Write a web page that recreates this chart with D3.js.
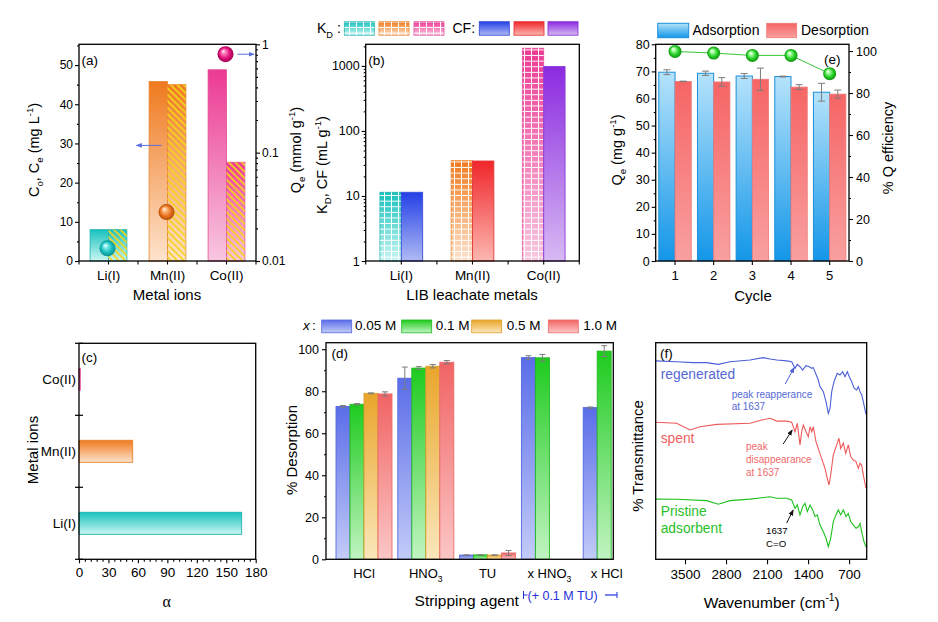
<!DOCTYPE html>
<html><head><meta charset="utf-8">
<script src="https://cdn.jsdelivr.net/npm/d3@7"></script>
<style>
html,body{margin:0;padding:0;background:#fff;}
svg{display:block;font-family:"Liberation Sans",Arial,Helvetica,sans-serif;}
</style></head><body>
<svg id="fig" width="938" height="622"></svg>
<script>
// ---------------- DATA ----------------
const metals = ["Li(I)", "Mn(II)", "Co(II)"];
const C0 = [8.0, 45.8, 48.8];          // mg/L
const Ce = [8.0, 45.0, 25.2];          // mg/L
const Qe = [0.0131, 0.0283, 0.81];     // mmol/g
const KD = [11.4, 34.9, 1870];         // mL/g
const CF = [11.4, 34.5, 977];
const alphaVals = [165.7, 54.7, 1.3];  // Li, Mn, Co

const agents = ["HCl", "HNO3", "TU", "x HNO3", "x HCl"];
const concs = ["0.05 M", "0.1 M", "0.5 M", "1.0 M"];
const desorption = [
  [72.7, 73.8, 79.0, 78.7],
  [86.2, 91.0, 91.9, 93.8],
  [2.0, 2.1, 2.0, 3.0],
  [96.0, 95.9, null, null],
  [72.2, 99.1, null, null]
];
const desorptionErr = [
  [0.5, 0.3, 0.2, 1.0],
  [5.3, 0.7, 0.8, 0.8],
  [0.1, 0.1, 0.1, 1.2],
  [0.9, 1.6, null, null],
  [0.3, 2.6, null, null]
];

const cycles = ["1", "2", "3", "4", "5"];
const adsQ = [69.7, 69.3, 68.3, 68.1, 62.3];
const adsErr = [0.9, 0.8, 0.9, 0.15, 3.3];
const desQ = [66.3, 66.1, 67.1, 64.2, 61.6];
const desErr = [0.1, 1.6, 4.1, 0.9, 1.5];
const effQ = [99.8, 99.0, 97.9, 97.9, 89.2];

// FTIR traces: [wavenumber, relative transmittance]
const ftirRegenerated = [[4000,91.6],[3642,91.2],[3364,90.8],[3130,90.8],[2932,90.0],[2732,91.2],[2391,92.0],[2169,93.1],[2050,92.5],[1935,92.0],[1765,91.6],[1680,91.2],[1623,88.2],[1584,90.0],[1538,88.9],[1492,87.4],[1436,89.4],[1379,88.9],[1338,88.2],[1311,88.5],[1265,85.4],[1226,82.8],[1197,79.7],[1140,77.4],[1094,72.8],[1055,67.4],[1026,69.7],[997,77.4],[958,82.0],[902,85.9],[856,85.1],[810,86.6],[770,84.3],[731,86.6],[697,84.3],[656,82.0],[612,78.9],[571,78.2],[543,79.7],[514,77.4],[485,75.9],[458,72.8],[412,66.9]];
const ftirSpent = [[4000,63.3],[3642,62.8],[3415,59.7],[3244,61.2],[2959,62.3],[2391,62.8],[2191,64.3],[2050,65.1],[1935,63.8],[1765,63.8],[1680,63.3],[1623,58.9],[1584,62.8],[1538,52.8],[1509,58.9],[1482,62.0],[1436,58.9],[1396,56.6],[1367,61.2],[1338,58.9],[1311,61.2],[1265,54.3],[1209,49.7],[1151,45.1],[1111,42.0],[1072,37.4],[1043,34.3],[1014,38.9],[970,48.2],[912,52.8],[873,55.9],[844,51.2],[799,53.6],[758,48.9],[714,52.8],[673,47.4],[629,45.8],[582,45.1],[543,42.0],[514,44.3],[485,43.5],[458,38.9],[412,32.8]];
const ftirPristine = [[4000,27.8],[3642,27.7],[3130,27.1],[2932,25.4],[2732,27.1],[2391,27.8],[2191,28.4],[2050,28.9],[1935,28.2],[1765,28.2],[1680,27.4],[1623,23.5],[1584,25.1],[1538,20.5],[1492,24.3],[1453,25.9],[1413,22.0],[1367,25.1],[1321,22.8],[1282,19.7],[1243,20.5],[1197,15.8],[1140,12.7],[1094,9.7],[1055,5.8],[1014,9.7],[970,17.4],[924,20.5],[885,22.8],[844,20.5],[799,22.8],[753,19.7],[714,21.2],[673,17.4],[629,15.8],[582,14.3],[543,15.0],[514,16.6],[485,12.7],[446,8.1],[412,5.8]];

const ticksA = [0, 10, 20, 30, 40, 50];
const ticksAR = [0.01, 0.1, 1];
const ticksB = [1, 10, 100, 1000];
const ticksE = [0, 10, 20, 30, 40, 50, 60, 70, 80];
const ticksER = [0, 20, 40, 60, 80, 100];
const ticksC = [0, 30, 60, 90, 120, 150, 180];
const ticksD = [0, 20, 40, 60, 80, 100];
const ticksF = [3500, 2800, 2100, 1400, 700];

// ---------------- SETUP ----------------
const svg = d3.select("#fig");
const defs = svg.append("defs");
const FONT = '"Liberation Sans",Arial,Helvetica,sans-serif';

function vgrad(id, top, bottom) {
  const g = defs.append("linearGradient").attr("id", id)
    .attr("x1", 0).attr("y1", 0).attr("x2", 0).attr("y2", 1);
  g.append("stop").attr("offset", "0%").attr("stop-color", top);
  g.append("stop").attr("offset", "100%").attr("stop-color", bottom);
}
function sgrad(id, light, c, dark) {
  const g = defs.append("radialGradient").attr("id", id)
    .attr("cx", "50%").attr("cy", "50%").attr("r", "50%").attr("fx", "35%").attr("fy", "30%");
  g.append("stop").attr("offset", "0%").attr("stop-color", "#ffffff");
  g.append("stop").attr("offset", "22%").attr("stop-color", light);
  g.append("stop").attr("offset", "65%").attr("stop-color", c);
  g.append("stop").attr("offset", "100%").attr("stop-color", dark);
}
const pal = {
  teal:    {top: "#17c2be", bot: "#cbf6f3", stroke: "#20b2ad"},
  orange:  {top: "#ef7a1f", bot: "#fde3cc", stroke: "#e8842e"},
  magenta: {top: "#ec3a93", bot: "#f8c7e0", stroke: "#e24b99"},
  blue:    {top: "#2440e6", bot: "#afbaf4", stroke: "#3a4fd8"},
  red:     {top: "#f0262a", bot: "#fcb7b1", stroke: "#e33a3a"},
  purple:  {top: "#8b2ae0", bot: "#d7baf3", stroke: "#8a3ad8"},
  d0:      {top: "#5a6de8", bot: "#c3cbf8", stroke: "#5468e0"},
  d1:      {top: "#1ecb1e", bot: "#c1f4c1", stroke: "#22b822"},
  d2:      {top: "#e9a52a", bot: "#fbe7bb", stroke: "#dc9e2c"},
  d3:      {top: "#f16464", bot: "#fcc6c6", stroke: "#ec6a6a"},
  ads:     {top: "#b5e3fb", bot: "#1396e8", stroke: "#1d8fd9"},
  des:     {top: "#f66565", bot: "#f9a0a0", stroke: "#ee7a7a"}
};
Object.entries(pal).forEach(([k, v]) => vgrad("g_" + k, v.top, v.bot));
sgrad("s_teal", "#8ff0ee", "#19bfc0", "#0a8e90");
sgrad("s_orange", "#ffc08a", "#ea7420", "#b24d08");
sgrad("s_magenta", "#ff8cc4", "#e2137c", "#a0004f");
sgrad("s_green", "#b8ffb0", "#28d228", "#0f9010");

// hatch (diagonal "\" yellow lines)
const hatch = defs.append("pattern").attr("id", "hatch").attr("patternUnits", "userSpaceOnUse")
  .attr("width", 4.6).attr("height", 4.6).attr("patternTransform", "rotate(-45)");
hatch.append("line").attr("x1", 1).attr("y1", 0).attr("x2", 1).attr("y2", 4.6)
  .attr("stroke", "#f4d41c").attr("stroke-width", 1.7);
// white grid
const grid = defs.append("pattern").attr("id", "grid").attr("patternUnits", "userSpaceOnUse")
  .attr("width", 7).attr("height", 5.6);
grid.append("path").attr("d", "M6.5,0V5.6M0,5.1H7").attr("stroke", "#ffffff")
  .attr("stroke-width", 1).attr("fill", "none");

// arrow markers
function marker(id, color) {
  defs.append("marker").attr("id", id).attr("viewBox", "0 0 10 10").attr("refX", 9).attr("refY", 5)
    .attr("markerWidth", 6).attr("markerHeight", 6).attr("orient", "auto-start-reverse")
    .append("path").attr("d", "M0,1L10,5L0,9Z").attr("fill", color);
}
marker("arrBlue", "#5a6ee0");
marker("arrBlack", "#111");
marker("arrBlueF", "#4f63d6");

function rich(textSel, parts, fs) {
  let shift = 0;
  parts.forEach(p => {
    const [s, k] = Array.isArray(p) ? p : [p, "n"];
    const t = textSel.append("tspan").text(s);
    const target = k === "sub" ? fs * 0.3 : (k === "sup" ? -fs * 0.42 : 0);
    if (k !== "n") t.attr("font-size", fs * 0.66);
    if (target - shift !== 0) t.attr("dy", target - shift);
    shift = target;
  });
  return textSel;
}
function label(g, x, y, parts, fs, opts = {}) {
  const t = g.append("text").attr("x", x).attr("y", y).attr("font-size", fs)
    .attr("font-family", opts.family || FONT)
    .attr("fill", opts.fill || "#000").attr("text-anchor", opts.anchor || "start");
  if (opts.italic) t.attr("font-style", "italic");
  return rich(t, typeof parts === "string" ? [parts] : parts, fs);
}
function vlabel(g, x, y, parts, fs) {
  const t = g.append("text").attr("transform", `translate(${x},${y}) rotate(-90)`)
    .attr("y", fs * 0.35).attr("font-size", fs).attr("text-anchor", "middle")
    .attr("font-family", FONT).attr("fill", "#000");
  return rich(t, parts, fs);
}
function styleAxis(g, fs) {
  g.select(".domain").remove();
  g.selectAll("line").attr("stroke", "#000").attr("stroke-width", 1.1);
  g.selectAll("text").attr("font-size", fs).attr("fill", "#000").attr("font-family", FONT);
  return g;
}
function frame(g, P) {
  g.append("rect").attr("x", P.L).attr("y", P.T).attr("width", P.R - P.L).attr("height", P.B - P.T)
    .attr("fill", "none").attr("stroke", "#000").attr("stroke-width", 1.3);
}
function errBar(g, x, y1, y2, w, color) {
  g.append("line").attr("x1", x).attr("x2", x).attr("y1", y1).attr("y2", y2).attr("stroke", color).attr("stroke-width", 1);
  g.append("line").attr("x1", x - w / 2).attr("x2", x + w / 2).attr("y1", y1).attr("y2", y1).attr("stroke", color).attr("stroke-width", 1);
  g.append("line").attr("x1", x - w / 2).attr("x2", x + w / 2).attr("y1", y2).attr("y2", y2).attr("stroke", color).attr("stroke-width", 1);
}
const metalCol = ["teal", "orange", "magenta"];
const cfCol = ["blue", "red", "purple"];
const sphereCol = ["s_teal", "s_orange", "s_magenta"];

// ---------------- PANEL (a) ----------------
{
  const P = {L: 79, R: 256, T: 44.3, B: 261};
  const g = svg.append("g");
  const x = d3.scaleBand().domain(metals).range([P.L, P.R]);
  const y = d3.scaleLinear().domain([0, 55.3]).range([P.B, P.T]);
  const yR = d3.scaleLog().domain([0.01, 1]).range([P.B, P.T]);
  const bw = x.step() * 0.312;
  metals.forEach((m, i) => {
    const cx = x(m) + x.step() / 2;
    const c = pal[metalCol[i]];
    g.append("rect").attr("x", cx - bw).attr("y", y(C0[i])).attr("width", bw).attr("height", y(0) - y(C0[i]))
      .attr("fill", `url(#g_${metalCol[i]})`).attr("stroke", c.stroke).attr("stroke-width", 0.8);
    g.append("rect").attr("x", cx).attr("y", y(Ce[i])).attr("width", bw).attr("height", y(0) - y(Ce[i]))
      .attr("fill", `url(#g_${metalCol[i]})`).attr("stroke", c.stroke).attr("stroke-width", 0.8);
    g.append("rect").attr("x", cx).attr("y", y(Ce[i])).attr("width", bw).attr("height", y(0) - y(Ce[i]))
      .attr("fill", "url(#hatch)");
  });
  metals.forEach((m, i) => {
    g.append("circle").attr("cx", x(m) + x.step() / 2 - 1).attr("cy", yR(Qe[i])).attr("r", 8)
      .attr("fill", `url(#${sphereCol[i]})`);
  });
  // arrows
  const ax0 = x("Mn(II)") + x.step() / 2 - 6;
  g.append("line").attr("x1", ax0).attr("x2", ax0 - 25).attr("y1", y(29.5)).attr("y2", y(29.5))
    .attr("stroke", "#5a6ee0").attr("stroke-width", 1).attr("marker-end", "url(#arrBlue)");
  const cxCo = x("Co(II)") + x.step() / 2 - 1;
  g.append("line").attr("x1", cxCo + 12).attr("x2", P.R - 2).attr("y1", yR(Qe[2])).attr("y2", yR(Qe[2]))
    .attr("stroke", "#5a6ee0").attr("stroke-width", 1).attr("marker-end", "url(#arrBlue)");
  frame(g, P);
  styleAxis(g.append("g").attr("transform", `translate(${P.L},0)`)
    .call(d3.axisLeft(y).tickValues(ticksA).tickSize(4).tickPadding(2)), 12);
  styleAxis(g.append("g").attr("transform", `translate(${P.L},0)`)
    .call(d3.axisLeft(y).tickValues([5, 15, 25, 35, 45, 55]).tickSize(2).tickFormat("")), 12);
  styleAxis(g.append("g").attr("transform", `translate(${P.R},0)`)
    .call(d3.axisRight(yR).tickValues(ticksAR).tickSize(4).tickPadding(2).tickFormat(d => String(d))), 12);
  const minorR = [];
  [0.01, 0.1].forEach(d => { for (let k = 2; k <= 9; k++) minorR.push(d * k); });
  styleAxis(g.append("g").attr("transform", `translate(${P.R},0)`)
    .call(d3.axisRight(yR).tickValues(minorR).tickSize(2).tickFormat("")), 12);
  const bx = metals.map(m => x(m)).concat([P.R]);
  const cxs = metals.map(m => x(m) + x.step() / 2);
  bx.concat(cxs).forEach(v => g.append("line").attr("x1", v).attr("x2", v).attr("y1", P.B).attr("y2", P.B + 3.5).attr("stroke", "#000").attr("stroke-width", 1.1));
  metals.forEach((m, i) => label(g, cxs[i], 280, m, 13.5, {anchor: "middle"}));
  label(g, 167, 300, "Metal ions", 15, {anchor: "middle"});
  label(g, 81.5, 65, "(a)", 13.5);
  vlabel(g, 34, 150, ["C", ["o", "sub"], ", C", ["e", "sub"], " (mg L", ["-1", "sup"], ")"], 14.5);
  vlabel(g, 296, 150, ["Q", ["e", "sub"], " (mmol g", ["-1", "sup"], ")"], 14.5);
}

// ---------------- PANEL (b) ----------------
{
  const P = {L: 365.7, R: 579.3, T: 44.3, B: 261};
  const g = svg.append("g");
  const x = d3.scaleBand().domain(metals).range([P.L, P.R]);
  const y = d3.scaleLog().domain([1, 2150]).range([P.B, P.T]);
  const bw = x.step() * 0.3;
  metals.forEach((m, i) => {
    const cx = x(m) + x.step() / 2;
    g.append("rect").attr("x", cx - bw).attr("y", y(KD[i])).attr("width", bw).attr("height", y(1) - y(KD[i]))
      .attr("fill", `url(#g_${metalCol[i]})`).attr("stroke", pal[metalCol[i]].stroke).attr("stroke-width", 0.8);
    g.append("rect").attr("x", cx - bw).attr("y", y(KD[i])).attr("width", bw).attr("height", y(1) - y(KD[i]))
      .attr("fill", "url(#grid)");
    g.append("rect").attr("x", cx).attr("y", y(CF[i])).attr("width", bw).attr("height", y(1) - y(CF[i]))
      .attr("fill", `url(#g_${cfCol[i]})`).attr("stroke", pal[cfCol[i]].stroke).attr("stroke-width", 0.9);
  });
  frame(g, P);
  styleAxis(g.append("g").attr("transform", `translate(${P.L},0)`)
    .call(d3.axisLeft(y).tickValues(ticksB).tickSize(4).tickPadding(2).tickFormat(d => String(d))), 12.5);
  const minor = [];
  [1, 10, 100, 1000].forEach(d => { for (let k = 2; k <= 9; k++) if (d * k < 2150) minor.push(d * k); });
  styleAxis(g.append("g").attr("transform", `translate(${P.L},0)`)
    .call(d3.axisLeft(y).tickValues(minor).tickSize(2).tickFormat("")), 12);
  const bx = metals.map(m => x(m)).concat([P.R]);
  const cxs = metals.map(m => x(m) + x.step() / 2);
  bx.concat(cxs).forEach(v => g.append("line").attr("x1", v).attr("x2", v).attr("y1", P.B).attr("y2", P.B + 3.5).attr("stroke", "#000").attr("stroke-width", 1.1));
  metals.forEach((m, i) => label(g, cxs[i], 280, m, 13.5, {anchor: "middle"}));
  label(g, 472, 300, "LIB leachate metals", 15, {anchor: "middle"});
  label(g, 368.3, 65, "(b)", 13.5);
  vlabel(g, 322, 165, ["K", ["D", "sub"], ", CF (mL g", ["-1", "sup"], ")"], 14.5);
  // legend
  label(g, 317, 33.3, ["K", ["D", "sub"], " :"], 14);
  const sw = [[344.3, metalCol[0]], [379, metalCol[1]], [414, metalCol[2]]];
  sw.forEach(([sx, c]) => {
    g.append("rect").attr("x", sx).attr("y", 21.7).attr("width", 30).attr("height", 13.5)
      .attr("fill", `url(#g_${c})`).attr("stroke", pal[c].stroke).attr("stroke-width", 0.8);
    g.append("rect").attr("x", sx).attr("y", 21.7).attr("width", 30).attr("height", 13.5).attr("fill", "url(#grid)");
  });
  label(g, 452.5, 33.3, "CF:", 14);
  [[479.3, cfCol[0]], [514, cfCol[1]], [548, cfCol[2]]].forEach(([sx, c]) => {
    g.append("rect").attr("x", sx).attr("y", 21.7).attr("width", 30).attr("height", 13.5)
      .attr("fill", `url(#g_${c})`).attr("stroke", pal[c].stroke).attr("stroke-width", 0.9);
  });
}

// ---------------- PANEL (e) ----------------
{
  const P = {L: 655.7, R: 849, T: 44.3, B: 261};
  const g = svg.append("g");
  const x = d3.scaleBand().domain(cycles).range([P.L, P.R]);
  const y = d3.scaleLinear().domain([0, 80]).range([P.B, P.T]);
  const yR = d3.scaleLinear().domain([0, 103.2]).range([P.B, P.T]);
  const bw = x.step() * 0.42;
  cycles.forEach((c, i) => {
    const cx = x(c) + x.step() / 2;
    g.append("rect").attr("x", cx - bw).attr("y", y(adsQ[i])).attr("width", bw).attr("height", y(0) - y(adsQ[i]))
      .attr("fill", "url(#g_ads)").attr("stroke", pal.ads.stroke).attr("stroke-width", 1);
    g.append("rect").attr("x", cx).attr("y", y(desQ[i])).attr("width", bw).attr("height", y(0) - y(desQ[i]))
      .attr("fill", "url(#g_des)").attr("stroke", pal.des.stroke).attr("stroke-width", 0.8);
    errBar(g, cx - bw / 2, y(adsQ[i] + adsErr[i]), y(adsQ[i] - adsErr[i]), 7, "#7c7c7c");
    errBar(g, cx + bw / 2, y(desQ[i] + desErr[i]), y(desQ[i] - desErr[i]), 7, "#7c7c7c");
  });
  const line = d3.line().x((d, i) => x(cycles[i]) + x.step() / 2).y(d => yR(d));
  g.append("path").attr("d", line(effQ)).attr("fill", "none").attr("stroke", "#3cc43c").attr("stroke-width", 1);
  effQ.forEach((v, i) => g.append("circle").attr("cx", x(cycles[i]) + x.step() / 2).attr("cy", yR(v)).attr("r", 6.5).attr("fill", "url(#s_green)"));
  frame(g, P);
  styleAxis(g.append("g").attr("transform", `translate(${P.L},0)`)
    .call(d3.axisLeft(y).tickValues(ticksE).tickSize(4).tickPadding(2)), 12.5);
  styleAxis(g.append("g").attr("transform", `translate(${P.L},0)`)
    .call(d3.axisLeft(y).tickValues(d3.range(5, 80, 10)).tickSize(2).tickFormat("")), 12);
  styleAxis(g.append("g").attr("transform", `translate(${P.R},0)`)
    .call(d3.axisRight(yR).tickValues(ticksER).tickSize(4).tickPadding(3)), 12.5);
  styleAxis(g.append("g").attr("transform", `translate(${P.R},0)`)
    .call(d3.axisRight(yR).tickValues(d3.range(10, 101, 20)).tickSize(2).tickFormat("")), 12);
  styleAxis(g.append("g").attr("transform", `translate(0,${P.B})`)
    .call(d3.axisBottom(x).tickSize(4).tickPadding(6)), 13);
  label(g, 824, 64, "(e)", 13.5);
  label(g, 753, 300.5, "Cycle", 15, {anchor: "middle"});
  vlabel(g, 617, 150, ["Q", ["e", "sub"], " (mg g", ["-1", "sup"], ")"], 14.5);
  vlabel(g, 888, 148, ["% Q efficiency"], 14.5);
  // legend
  g.append("rect").attr("x", 657.7).attr("y", 23.3).attr("width", 31).attr("height", 14.4)
    .attr("fill", "url(#g_ads)").attr("stroke", pal.ads.stroke).attr("stroke-width", 1);
  label(g, 692.5, 35.3, "Adsorption", 14);
  g.append("rect").attr("x", 766.7).attr("y", 23.3).attr("width", 30).attr("height", 14.4)
    .attr("fill", "url(#g_des)").attr("stroke", pal.des.stroke).attr("stroke-width", 0.8);
  label(g, 801, 35.3, "Desorption", 14);
}

// ---------------- PANEL (c) ----------------
{
  const P = {L: 79, R: 255.7, T: 343.3, B: 559.3};
  const g = svg.append("g");
  const order = metals.slice().reverse();
  const y = d3.scaleBand().domain(order).range([P.T, P.B]);
  const x = d3.scaleLinear().domain([0, 180]).range([P.L, P.R]);
  const bh = y.step() * 0.306;
  const cols = {"Li(I)": "teal", "Mn(II)": "orange", "Co(II)": "magenta"};
  metals.forEach((m, i) => {
    const cy = y(m) + y.step() / 2;
    g.append("rect").attr("x", x(0)).attr("y", cy - bh / 2).attr("width", x(alphaVals[i]) - x(0)).attr("height", bh)
      .attr("fill", `url(#g_${cols[m]})`).attr("stroke", pal[cols[m]].stroke).attr("stroke-width", 0.9);
  });
  frame(g, P);
  styleAxis(g.append("g").attr("transform", `translate(0,${P.B})`)
    .call(d3.axisBottom(x).tickValues(ticksC).tickSize(4).tickPadding(4)), 13.5);
  styleAxis(g.append("g").attr("transform", `translate(0,${P.B})`)
    .call(d3.axisBottom(x).tickValues(d3.range(6, 180, 6).filter(v => v % 30 !== 0)).tickSize(2.5).tickFormat("")), 12);
  order.map(m => y(m)).concat([P.B]).forEach(v =>
    g.append("line").attr("x1", P.L - 4).attr("x2", P.L + 4).attr("y1", v).attr("y2", v).attr("stroke", "#000").attr("stroke-width", 1.2));
  order.forEach(m => label(g, P.L - 3, y(m) + y.step() / 2 + 4.7, m, 13.5, {anchor: "end"}));
  label(g, 81.5, 362, "(c)", 13.5);
  label(g, 166.7, 607, "α", 16, {anchor: "middle", family: '"Liberation Serif","Times New Roman",serif'});
  vlabel(g, 33, 450, ["Metal ions"], 15);
}

// ---------------- PANEL (d) ----------------
{
  const P = {L: 326, R: 613.3, T: 342.7, B: 559.3};
  const g = svg.append("g");
  const x = d3.scaleBand().domain(agents).range([P.L + 7.1, P.L + 7.1 + 5 * 61.8]);
  const xs = d3.scaleBand().domain(concs).range([2.9, 58.9]);
  const y = d3.scaleLinear().domain([0, 103.1]).range([P.B, P.T]);
  const dk = ["d0", "d1", "d2", "d3"];
  agents.forEach((a, i) => {
    concs.forEach((c, j) => {
      const v = desorption[i][j];
      if (v == null) return;
      const bx = x(a) + xs(c);
      g.append("rect").attr("x", bx).attr("y", y(v)).attr("width", xs.bandwidth()).attr("height", y(0) - y(v))
        .attr("fill", `url(#g_${dk[j]})`).attr("stroke", pal[dk[j]].stroke).attr("stroke-width", 0.9);
    });
  });
  agents.forEach((a, i) => {
    concs.forEach((c, j) => {
      const v = desorption[i][j];
      if (v == null) return;
      const e = desorptionErr[i][j];
      const cx = x(a) + xs(c) + xs.bandwidth() / 2;
      errBar(g, cx, y(v + e), y(v - e), 6, "#7c7c7c");
    });
  });
  frame(g, P);
  styleAxis(g.append("g").attr("transform", `translate(${P.L},0)`)
    .call(d3.axisLeft(y).tickValues(ticksD).tickSize(4).tickPadding(3)), 12.5);
  styleAxis(g.append("g").attr("transform", `translate(${P.L},0)`)
    .call(d3.axisLeft(y).tickValues([10, 30, 50, 70, 90]).tickSize(2).tickFormat("")), 12);
  const catLab = {"HCl": ["HCl"], "HNO3": ["HNO", ["3", "sub"]], "TU": ["TU"], "x HNO3": ["x HNO", ["3", "sub"]], "x HCl": ["x HCl"]};
  agents.forEach((a, i) => {
    const cx = x(a) + x.bandwidth() / 2 - (i === 4 ? 4.5 : 0);
    label(g, cx, 578, catLab[a], 13, {anchor: "middle"});
  });
  label(g, 466.7, 606, "Stripping agent", 15.5, {anchor: "middle"});
  label(g, 331.5, 358, "(d)", 13.5);
  vlabel(g, 292, 450, ["% Desorption"], 15);
  // TU bracket
  const blue = "#1f2fd8";
  g.append("line").attr("x1", 523.5).attr("x2", 523.5).attr("y1", 591).attr("y2", 599).attr("stroke", blue).attr("stroke-width", 1);
  g.append("line").attr("x1", 523.5).attr("x2", 527.5).attr("y1", 595).attr("y2", 595).attr("stroke", blue).attr("stroke-width", 1);
  label(g, 527.5, 599.5, "(+ 0.1 M TU)", 12.5, {fill: blue});
  g.append("line").attr("x1", 605).attr("x2", 617).attr("y1", 595).attr("y2", 595).attr("stroke", blue).attr("stroke-width", 1.2);
  g.append("line").attr("x1", 617).attr("x2", 617).attr("y1", 592).attr("y2", 598).attr("stroke", blue).attr("stroke-width", 1);
  // legend
  label(g, 303, 329.5, "x", 13.5, {italic: true});
  label(g, 312, 329.5, ":", 13.5);
  const sx = [321.7, 401.7, 471.7, 548.3];
  const tx = [355, 435.7, 506.7, 583.3];
  concs.forEach((c, j) => {
    g.append("rect").attr("x", sx[j]).attr("y", 320).attr("width", 30).attr("height", 12.8)
      .attr("fill", `url(#g_${dk[j]})`).attr("stroke", pal[dk[j]].stroke).attr("stroke-width", 0.8);
    label(g, tx[j], 330, c, 13.5);
  });
}

// ---------------- PANEL (f) ----------------
{
  const P = {L: 655.7, R: 866.7, T: 342.7, B: 559.3};
  const g = svg.append("g");
  const x = d3.scaleLinear().domain([4000, 400]).range([P.L, P.R]);
  const y = d3.scaleLinear().domain([0, 100]).range([P.B, P.T]);
  const line = d3.line().x(d => x(d[0])).y(d => y(d[1]));
  g.append("path").attr("d", line(ftirRegenerated)).attr("fill", "none").attr("stroke", "#4c60d8").attr("stroke-width", 1.1);
  g.append("path").attr("d", line(ftirSpent)).attr("fill", "none").attr("stroke", "#ef5a5a").attr("stroke-width", 1.1);
  g.append("path").attr("d", line(ftirPristine)).attr("fill", "none").attr("stroke", "#1fc01f").attr("stroke-width", 1.1);
  frame(g, P);
  styleAxis(g.append("g").attr("transform", `translate(0,${P.B})`)
    .call(d3.axisBottom(x).tickValues(ticksF).tickSize(5).tickPadding(5).tickFormat(d => String(d))), 13.5);
  label(g, 660, 358, "(f)", 13.5);
  label(g, 660.7, 378.7, "regenerated", 13.8, {fill: "#5468d4"});
  label(g, 731.7, 397.7, "peak reapperance", 10, {fill: "#5468d4"});
  label(g, 731.7, 410, "at 1637", 10, {fill: "#5468d4"});
  label(g, 660.7, 443.3, "spent", 13.8, {fill: "#ef6060"});
  label(g, 746, 450, "peak", 10, {fill: "#ef6a6a"});
  label(g, 746, 463, "disappearance", 10, {fill: "#ef6a6a"});
  label(g, 746, 475.7, "at 1637", 10, {fill: "#ef6a6a"});
  label(g, 660.7, 515.7, "Pristine", 13.8, {fill: "#2bc02b"});
  label(g, 660.7, 532.7, "adsorbent", 13.8, {fill: "#2bc02b"});
  label(g, 766, 534, "1637", 9.7);
  label(g, 766, 546.7, "C=O", 9.7);
  const xp = x(1637);
  g.append("line").attr("x1", xp - 9).attr("y1", 384).attr("x2", xp).attr("y2", 367.5)
    .attr("stroke", "#4f63d6").attr("stroke-width", 1).attr("marker-end", "url(#arrBlueF)");
  g.append("line").attr("x1", xp - 11).attr("y1", 444).attr("x2", xp - 2).attr("y2", 430)
    .attr("stroke", "#111").attr("stroke-width", 1).attr("marker-end", "url(#arrBlack)");
  g.append("line").attr("x1", xp - 7.5).attr("y1", 523).attr("x2", xp - 1).attr("y2", 510)
    .attr("stroke", "#111").attr("stroke-width", 1).attr("marker-end", "url(#arrBlack)");
  label(g, 771.7, 607.7, ["Wavenumber (cm", ["-1", "sup"], ")"], 15.5, {anchor: "middle"});
  vlabel(g, 638, 456, ["% Transmittance"], 15);
}
</script>
</body></html>
